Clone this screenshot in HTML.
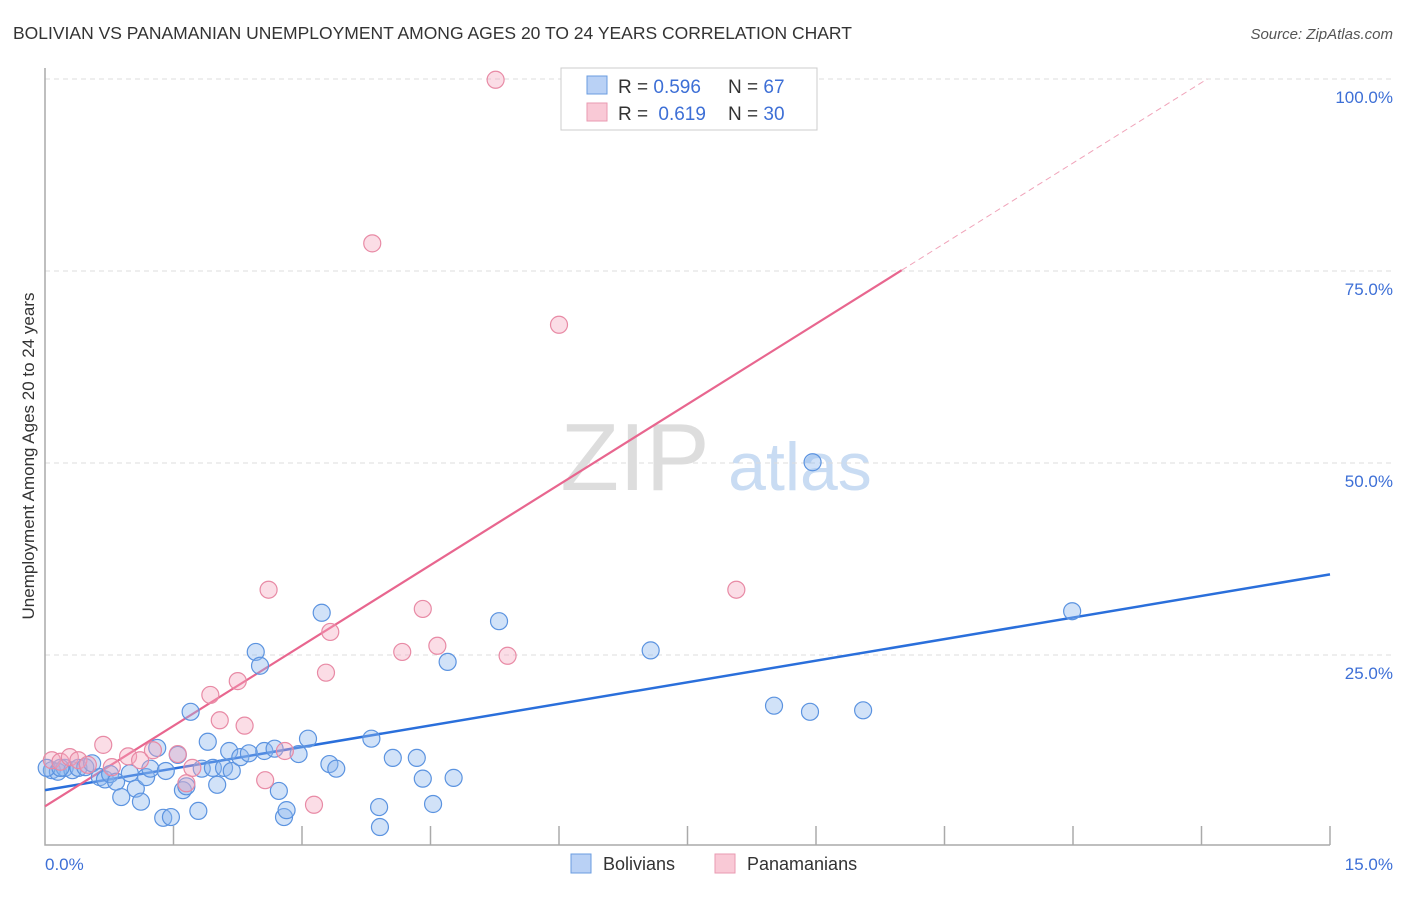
<!DOCTYPE html>
<html><head><meta charset="utf-8"><style>
body{margin:0;background:#fff;font-family:"Liberation Sans",sans-serif}
svg text{font-family:"Liberation Sans",sans-serif}
</style></head><body>
<svg id="chart" width="1406" height="892">
<text x="13" y="39" font-size="17.5" fill="#333">BOLIVIAN VS PANAMANIAN UNEMPLOYMENT AMONG AGES 20 TO 24 YEARS CORRELATION CHART</text>
<text x="1393" y="39" font-size="15" fill="#555" font-style="italic" text-anchor="end">Source: ZipAtlas.com</text>
<g><text x="635" y="490" font-size="96" fill="#ddd" text-anchor="middle" font-family="Liberation Serif">ZIP</text><text x="800" y="490" font-size="68" fill="#c9dcf3" text-anchor="middle">atlas</text></g>
<g id="grid"></g><g id="axes"></g><g id="lines"></g><g id="pts"></g>
<text transform="translate(34,456) rotate(-90)" font-size="17" fill="#333" text-anchor="middle">Unemployment Among Ages 20 to 24 years</text>
<text x="45" y="870" font-size="17" fill="#3d6fd6">0.0%</text>
<text x="1393" y="870" font-size="17" fill="#3d6fd6" text-anchor="end">15.0%</text>
<g>
<rect x="561" y="68" width="256" height="62" fill="#fff" stroke="#ccc"/>
<rect x="587" y="76" width="20" height="18" fill="#b9d1f5" stroke="#6a9ce0"/>
<rect x="587" y="103" width="20" height="18" fill="#f9c9d6" stroke="#e99ab1"/>
<text x="618" y="93" font-size="19" fill="#333">R = <tspan fill="#3d6fd6">0.596</tspan><tspan x="728">N = </tspan><tspan fill="#3d6fd6">67</tspan></text>
<text x="618" y="120" font-size="19" fill="#333">R = <tspan fill="#3d6fd6" dx="5">0.619</tspan><tspan x="728">N = </tspan><tspan fill="#3d6fd6">30</tspan></text>
</g>
<g>
<rect x="571" y="854" width="20" height="19" fill="#b9d1f5" stroke="#6a9ce0"/>
<text x="603" y="870" font-size="18" fill="#333">Bolivians</text>
<rect x="715" y="854" width="20" height="19" fill="#f9c9d6" stroke="#e99ab1"/>
<text x="747" y="870" font-size="18" fill="#333">Panamanians</text>
</g>
</svg>
<script>
const yTicks=[25,50,75,100];
const yTickLabels=["25.0%","50.0%","75.0%","100.0%"];
const xTicks=[1.5,3,4.5,6,7.5,9,10.5,12,13.5,15];
const bolX=[0.08,0.15,0.23,0.32,0.39,0.47,0.55,0.64,0.70,0.76,0.83,0.89,0.99,1.06,1.12,1.18,1.23,1.31,1.38,1.41,1.47,1.55,1.61,1.65,1.70,1.79,1.83,1.90,1.96,2.01,2.09,2.15,2.18,2.28,2.38,2.46,2.51,2.56,2.68,2.73,2.79,2.82,2.96,3.07,3.23,3.32,3.40,3.81,3.90,3.91,4.06,4.34,4.41,4.53,4.70,4.77,5.30,7.07,8.51,8.93,8.96,9.55,11.99,0.02,0.18];
const bolY=[10.0,9.8,10.3,10.0,10.3,10.4,10.9,9.1,8.8,9.5,8.5,6.5,9.6,7.6,5.9,9.1,10.2,12.9,3.8,9.9,3.9,12.0,7.4,7.9,17.6,4.7,10.2,13.7,10.3,8.1,10.3,12.5,9.9,11.7,12.2,25.4,23.6,12.5,12.8,7.3,3.9,4.8,12.1,14.1,30.5,10.8,10.2,14.1,5.2,2.6,11.6,11.6,8.9,5.6,24.1,9.0,29.4,25.6,18.4,17.6,50.1,17.8,30.7,10.3,10.3];
const panX=[0.08,0.18,0.29,0.39,0.50,0.68,0.78,0.97,1.11,1.26,1.55,1.65,1.72,1.93,2.04,2.25,2.33,2.57,2.61,2.80,3.14,3.28,3.33,3.82,4.17,4.41,4.58,5.26,5.40,6.00,8.07];
const panY=[11.3,11.1,11.7,11.3,10.7,13.3,10.4,11.8,11.3,12.6,12.1,8.3,10.3,19.8,16.5,21.6,15.8,8.7,33.5,12.5,5.5,22.7,28.0,78.6,25.4,31.0,26.2,99.9,24.9,68.0,33.5];
const bolTrend=[7.4,35.5];
const panTrend=[5.3,6.98];
const X=v=>45+v/15*1285, Y=v=>847-v/100*768;
const NS="http://www.w3.org/2000/svg";
function mk(p,t,a){const e=document.createElementNS(NS,t);for(const k in a)e.setAttribute(k,a[k]);document.getElementById(p).appendChild(e);return e;}
yTicks.forEach((t,i)=>{
 const l=mk('grid','line',{x1:45,x2:1393,y1:Y(t),y2:Y(t),stroke:'#ddd','stroke-dasharray':'5,4'});
 
 
 const tx=mk('grid','text',{x:1393,y:Y(t)+24,'font-size':17,fill:'#3d6fd6','text-anchor':'end'});
 tx.textContent=yTickLabels[i];
 
 
});
const ax=mk('axes','path',{d:`M45,68V845H1330`,stroke:'#aaa',fill:'none','stroke-width':1.5});


xTicks.forEach(t=>{
 const l=mk('axes','line',{x1:X(t),x2:X(t),y1:826,y2:845,stroke:'#aaa','stroke-width':1.5});
 
 
});
function dots(xs,ys,fill,stroke,name){xs.forEach((x,i)=>{
 const c=mk('pts','circle',{cx:X(x),cy:Y(ys[i]),r:8.5,fill:fill,stroke:stroke,'stroke-width':1.2});
 
 
});}
dots(bolX,bolY,'rgba(140,182,238,0.4)','#5b93e0','bolivian-point');
dots(panX,panY,'rgba(244,165,188,0.38)','#e88aa5','panamanian-point');
const bl=mk('lines','line',{x1:X(0),y1:Y(bolTrend[0]),x2:X(15),y2:Y(bolTrend[1]),stroke:'#2a6fdb','stroke-width':2.5});


const pe=(100-panTrend[0])/panTrend[1];
const pl=mk('lines','line',{x1:X(0),y1:Y(panTrend[0]),x2:X(10),y2:Y(panTrend[0]+panTrend[1]*10),stroke:'#e8668f','stroke-width':2.2});


const pd=mk('lines','line',{x1:X(10),y1:Y(panTrend[0]+panTrend[1]*10),x2:X(pe),y2:Y(100),stroke:'#f0a3b9','stroke-width':1,'stroke-dasharray':'6,4'});


</script>
</body></html>
